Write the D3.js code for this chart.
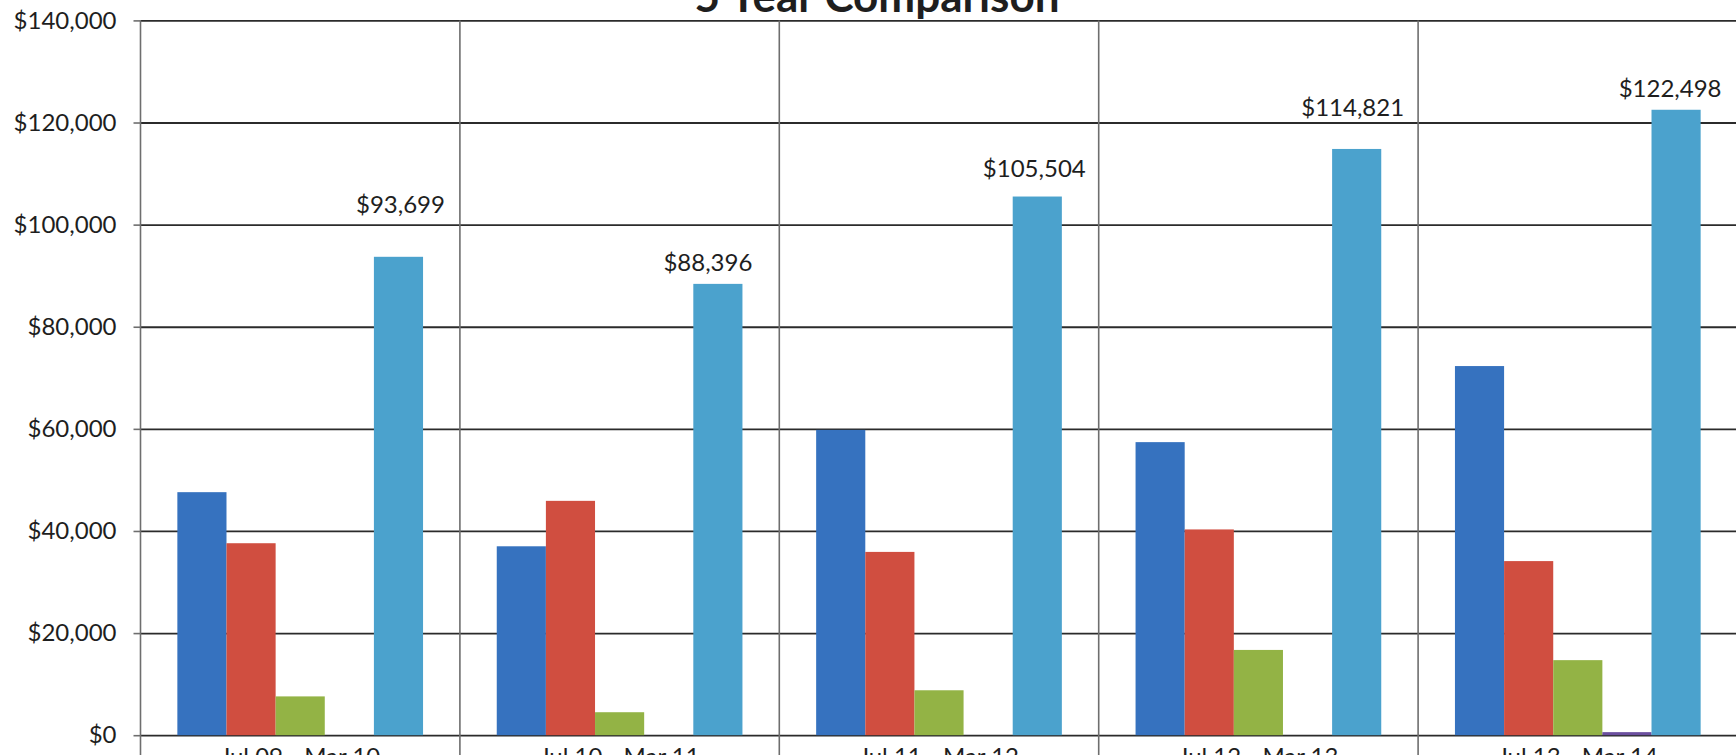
<!DOCTYPE html>
<html>
<head>
<meta charset="utf-8">
<script src="https://cdn.jsdelivr.net/npm/d3@7"></script>
<style>
body { margin: 0; background: #fff; }
text { font-family: Lato, "Open Sans", sans-serif; fill: #1e1e1e; }
</style>
</head>
<body>
<svg class="chart"></svg>
<script>
var width = 1736, height = 755;

// values
var categories = ["Jul 09 - Mar 10", "Jul 10 - Mar 11", "Jul 11 - Mar 12", "Jul 12 - Mar 13", "Jul 13 - Mar 14"];
var seriesNames = ["Series 1", "Series 2", "Series 3", "Series 4", "Total"];
var series1 = [47600, 37000, 59800, 57400, 72300];
var series2 = [37600, 45900, 35900, 40300, 34100];
var series3 = [7600, 4500, 8800, 16700, 14700];
var series4 = [0, 0, 0, 0, 600];
var totals = [93699, 88396, 105504, 114821, 122498];
var yTicks = [0, 20000, 40000, 60000, 80000, 100000, 120000, 140000];
var title = "5 Year Comparison";

// total labels were nudged by hand in the original
var labelLift = [44, 13, 20, 33, 13];
var labelShift = [2, -10, -3, -4, -6];

var colors = ["#3672bf", "#d04e40", "#93b345", "#6b4f9e", "#4ba2cd"];

// note: "top" is taken by window.top, so use other names
var plotLeft = 140.5, plotRight = 1737.5, plotTop = 20.4, plotBottom = 735.2;

var chart = d3.select(".chart")
    .attr("width", width)
    .attr("height", height)

var x0 = d3.scaleBand()
    .domain(categories)
    .range([plotLeft, plotRight])
    .padding(0);

var x1 = d3.scaleBand()
    .domain(seriesNames)
    .range([0, x0.bandwidth()])
    .paddingInner(0)
    .paddingOuter(0.75);

var y = d3.scaleLinear()
    .domain([0, 140000])
    .range([plotBottom, plotTop]);

var fmt = d3.format("$,.0f");

// horizontal gridlines
var grid = chart.append("g")
    .attr("transform", "translate(" + plotLeft + ",0)")
    .call(d3.axisLeft(y).tickValues(yTicks).tickSize(-(plotRight - plotLeft)).tickFormat(""));
grid.select(".domain").remove();
grid.selectAll("line").attr("stroke", "#2b2b2b").attr("stroke-width", 1.8);

// vertical dividers between categories
chart.append("g").selectAll("line")
    .data(categories)
    .enter().append("line")
    .attr("x1", function(d) { return x0(d); })
    .attr("x2", function(d) { return x0(d); })
    .attr("y1", plotTop)
    .attr("y2", height)
    .attr("stroke", "#6e6e6e")
    .attr("stroke-width", 1.6);

// y axis ticks + labels
var yAxis = chart.append("g")
    .attr("transform", "translate(" + plotLeft + ",0)")
    .call(d3.axisLeft(y).tickValues(yTicks).tickSize(7).tickPadding(17).tickFormat(fmt));
yAxis.select(".domain").remove();
yAxis.selectAll("line").attr("stroke", "#6e6e6e").attr("stroke-width", 1.6);
yAxis.selectAll("text")
    .style("font-size", "24px")
    .style("font-family", "Lato, 'Open Sans', sans-serif")
    .attr("fill", "#1e1e1e");

var allSeries = [series1, series2, series3, series4, totals];

var groups = chart.append("g").selectAll("g")
    .data(categories)
    .enter().append("g")
    .attr("transform", function(d) { return "translate(" + x0(d) + ",0)"; });

groups.selectAll("rect")
    .data(function(d, i) {
        return seriesNames.map(function(s, j) { return {key: s, value: allSeries[j][i], idx: j}; });
    })
    .enter().append("rect")
    .attr("x", function(d) { return x1(d.key); })
    .attr("width", x1.bandwidth())
    .attr("y", function(d) { return y(d.value); })
    .attr("height", function(d) { return plotBottom - y(d.value); })
    .attr("fill", function(d) { return colors[d.idx]; });

// total labels
chart.append("g").selectAll("text")
    .data(categories)
    .enter().append("text")
    .attr("x", function(d, i) { return x0(d) + x1("Total") + x1.bandwidth() / 2 + labelShift[i]; })
    .attr("y", function(d, i) { return y(totals[i]) - labelLift[i]; })
    .attr("text-anchor", "middle")
    .style("font-size", "24px")
    .text(function(d, i) { return fmt(totals[i]); });

// category labels (cut off at the bottom edge)
chart.append("g").selectAll("text")
    .data(categories)
    .enter().append("text")
    .attr("x", function(d) { return x0(d) + x0.bandwidth() / 2; })
    .attr("y", 765)
    .attr("text-anchor", "middle")
    .style("font-size", "24px")
    .text(function(d) { return d; });

chart.append("text")
    .attr("x", 877)
    .attr("y", 12)
    .attr("text-anchor", "middle")
    .style("font-size", "44px")
    .style("font-weight", "bold")
    .text(title);
</script>
</body>
</html>
